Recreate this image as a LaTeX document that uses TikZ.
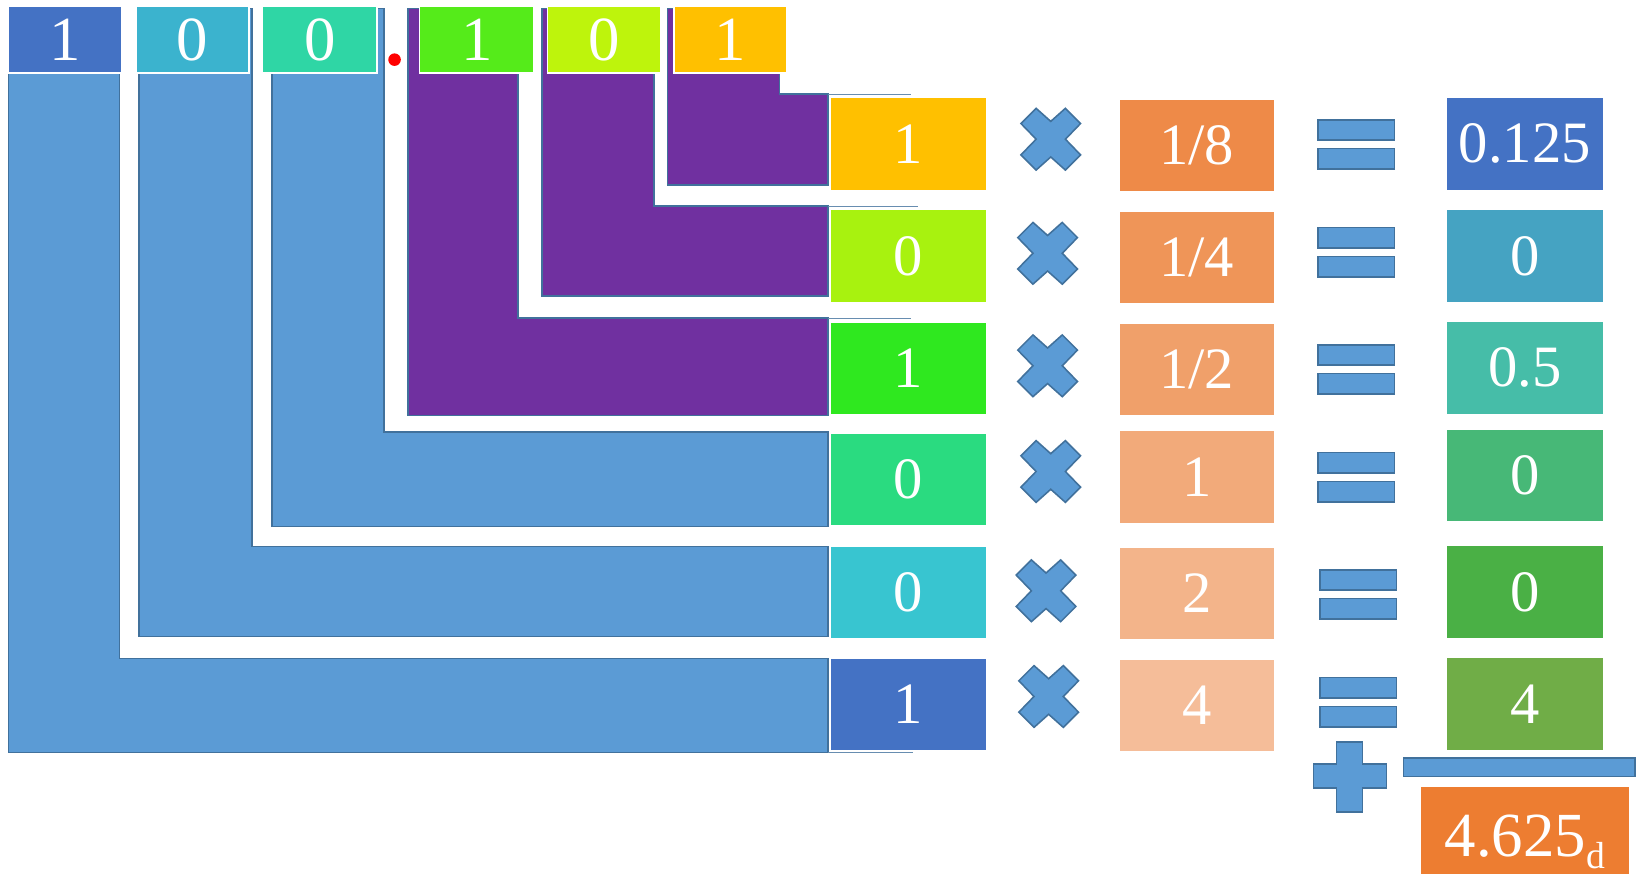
\documentclass[tikz,border=0pt]{standalone}
\usepackage{fontspec}
\setmainfont{Liberation Serif}
\definecolor{lblue}{HTML}{5B9BD5}
\definecolor{lborder}{HTML}{41719C}
\definecolor{purp}{HTML}{7030A0}
\definecolor{tA}{HTML}{4472C4}
\definecolor{tB}{HTML}{3BB3CE}
\definecolor{tC}{HTML}{2FD6A5}
\definecolor{tD}{HTML}{55EB1A}
\definecolor{tE}{HTML}{BEF40C}
\definecolor{tF}{HTML}{FFC000}
\definecolor{rA}{HTML}{FFC000}
\definecolor{rB}{HTML}{A8F20F}
\definecolor{rC}{HTML}{2FE81F}
\definecolor{rD}{HTML}{2ADB80}
\definecolor{rE}{HTML}{38C5D0}
\definecolor{rF}{HTML}{4472C4}
\definecolor{oA}{HTML}{EE8A48}
\definecolor{oB}{HTML}{EF9558}
\definecolor{oC}{HTML}{F0A06A}
\definecolor{oD}{HTML}{F2AA7A}
\definecolor{oE}{HTML}{F3B48A}
\definecolor{oF}{HTML}{F5BD99}
\definecolor{sA}{HTML}{4472C4}
\definecolor{sB}{HTML}{45A3C2}
\definecolor{sC}{HTML}{46BDA8}
\definecolor{sD}{HTML}{47B877}
\definecolor{sE}{HTML}{4AB045}
\definecolor{sF}{HTML}{70AD47}
\definecolor{finalc}{HTML}{ED7D31}
\tikzset{
  cell/.style={rectangle, draw=white, line width=1.5pt, inner sep=0pt, text=white,
    minimum height=89pt, minimum width=150pt, font=\fontsize{56}{60}\selectfont},
  topcell/.style={cell, minimum width=108pt, minimum height=64pt, font=\fontsize{60}{64}\selectfont},
  lshape/.style={draw=lborder, line width=1.5pt, line join=miter},
  op/.style={fill=lblue, draw=lborder, line width=1.5pt, line join=miter},
  ext/.style={draw=lborder!80, line width=1pt},
  multsign/.pic={\path[op] (-14,-29.5) -- (0,-17) -- (14,-29.5) -- (28.5,-15) -- (14,0) -- (28.5,15)
      -- (14,29.5) -- (0,17) -- (-14,29.5) -- (-28.5,15) -- (-14,0) -- (-28.5,-15) -- cycle;},
  eqsign/.pic={\path[op] (-36.5,-23.5) rectangle (36.5,-4); \path[op] (-36.5,4) rectangle (36.5,23.5);}
}
\begin{document}
\begin{tikzpicture}[x=1pt,y=-1pt]
\useasboundingbox (0,0) rectangle (1568,835);
% L shapes (blue)
\path[lshape, fill=lblue] (8,8) -- (114,8) -- (114,629) -- (791,629) -- (791,719) -- (8,719) -- cycle;
\path[lshape, fill=lblue] (133,8) -- (241,8) -- (241,522) -- (791,522) -- (791,608) -- (133,608) -- cycle;
\path[lshape, fill=lblue] (260,8) -- (367,8) -- (367,413) -- (791,413) -- (791,503) -- (260,503) -- cycle;
% L shapes (purple)
\path[lshape, fill=purp] (390,8) -- (495,8) -- (495,304) -- (791,304) -- (791,397) -- (390,397) -- cycle;
\path[lshape, fill=purp] (518,8) -- (625,8) -- (625,197) -- (791,197) -- (791,283) -- (518,283) -- cycle;
\path[lshape, fill=purp] (638,8) -- (745,8) -- (745,90) -- (791,90) -- (791,177) -- (638,177) -- cycle;
% outline extensions
\path[ext] (791,90) -- (870,90);
\path[ext] (791,197) -- (877,197);
\path[ext] (791,304) -- (870,304);
\path[ext] (791,719) -- (872,719);
% top digits
\node[topcell, fill=tA, minimum width=108pt] (b1) at (62,38) {1};
\node[topcell, fill=tB] (b2) at (184,38) {0};
\node[topcell, fill=tC, minimum width=109pt] (b3) at (305.5,38) {0};
\node[circle, fill=red, inner sep=0pt, minimum size=12pt] (dot) at (377,57) {};
\node[topcell, fill=tD, minimum width=109pt] (b4) at (455.5,38) {1};
\node[topcell, fill=tE] (b5) at (577,38) {0};
\node[topcell, fill=tF] (b6) at (698,38) {1};
% row bits
\node[cell, fill=rA] (r1) at (868,137.5) {1};
\node[cell, fill=rB] (r2) at (868,244.5) {0};
\node[cell, fill=rC] (r3) at (868,352) {1};
\node[cell, fill=rD] (r4) at (868,458) {0};
\node[cell, fill=rE] (r5) at (868,566) {0};
\node[cell, fill=rF] (r6) at (868,673) {1};
% multiply signs
\pic at (1004,133) {multsign};
\pic at (1001,242) {multsign};
\pic at (1001,349.5) {multsign};
\pic at (1004,450.5) {multsign};
\pic at (999.5,564.5) {multsign};
\pic at (1002,665.5) {multsign};
% weights
\node[cell, fill=oA, minimum width=149pt] (w1) at (1143.5,139) {1/8};
\node[cell, fill=oB, minimum width=149pt] (w2) at (1143.5,246) {1/4};
\node[cell, fill=oC, minimum width=149pt] (w3) at (1143.5,353) {1/2};
\node[cell, fill=oD, minimum width=149pt] (w4) at (1143.5,456) {1};
\node[cell, fill=oE, minimum width=149pt] (w5) at (1143.5,567) {2};
\node[cell, fill=oF, minimum width=149pt] (w6) at (1143.5,674) {4};
% equals signs
\pic at (1296,138) {eqsign};
\pic at (1296,241) {eqsign};
\pic at (1296,353) {eqsign};
\pic at (1296,456) {eqsign};
\pic at (1298,568) {eqsign};
\pic at (1298,671) {eqsign};
% results
\node[cell, fill=sA] (p1) at (1457,137.5) {0.125};
\node[cell, fill=sB] (p2) at (1457,244.5) {0};
\node[cell, fill=sC] (p3) at (1457,351.5) {0.5};
\node[cell, fill=sD] (p4) at (1457,454.5) {0};
\node[cell, fill=sE] (p5) at (1457,565.5) {0};
\node[cell, fill=sF] (p6) at (1457,672.5) {4};
% plus and sum bar
\path[op] (1277,709) -- (1302,709) -- (1302,730) -- (1325,730) -- (1325,753) -- (1302,753)
  -- (1302,776) -- (1277,776) -- (1277,753) -- (1255,753) -- (1255,730) -- (1277,730) -- cycle;
\path[op] (1341,724) rectangle (1562,742);
% total
\node[cell, fill=finalc, minimum width=200pt, minimum height=90pt] (sum) at (1457,796) {};
\node[text=white, inner sep=0pt, anchor=base, font=\fontsize{60}{64}\selectfont] (sumtext) at (1457,818)
  {4.625\raisebox{-0.2em}{\fontsize{36}{36}\selectfont d}};
\end{tikzpicture}
\end{document}
